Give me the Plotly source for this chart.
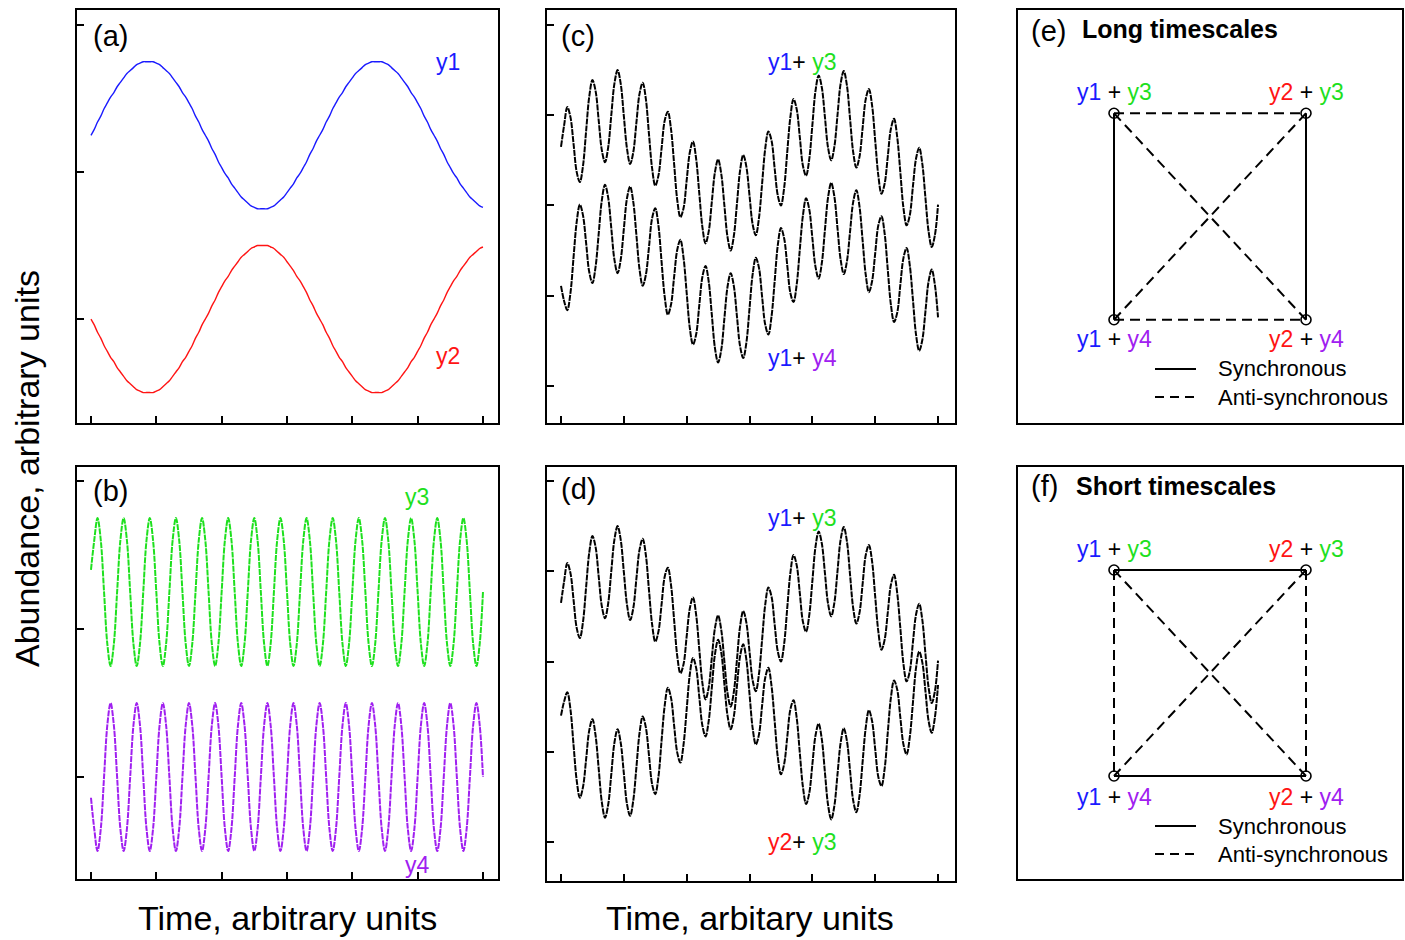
import numpy as np
import plotly.graph_objects as go

W, H = 1405, 940

# ---------------- data ----------------
# time samples, arbitrary units (0 .. 6 in steps of 0.05)
time = np.round(np.arange(121) * 0.05, 2)

# slow oscillators
y1 = [1.25, 1.29, 1.34, 1.38, 1.43, 1.47, 1.51, 1.54, 1.58, 1.61,
      1.64, 1.67, 1.69, 1.71, 1.73, 1.74, 1.75, 1.75, 1.75, 1.75,
      1.74, 1.73, 1.71, 1.69, 1.67, 1.64, 1.61, 1.58, 1.54, 1.51,
      1.47, 1.43, 1.38, 1.34, 1.29, 1.25,
      1.21, 1.16, 1.12, 1.07, 1.03, 0.99, 0.96, 0.92, 0.89, 0.86,
      0.83, 0.81, 0.79, 0.77, 0.76, 0.75, 0.75, 0.75, 0.75, 0.76,
      0.77, 0.79, 0.81, 0.83, 0.86, 0.89, 0.92, 0.96, 0.99, 1.03,
      1.07, 1.12, 1.16, 1.21,
      1.25,
      1.29, 1.34, 1.38, 1.43, 1.47, 1.51, 1.54, 1.58, 1.61, 1.64,
      1.67, 1.69, 1.71, 1.73, 1.74, 1.75, 1.75, 1.75, 1.75, 1.74,
      1.73, 1.71, 1.69, 1.67, 1.64, 1.61, 1.58, 1.54, 1.51, 1.47,
      1.43, 1.38, 1.34, 1.29, 1.25, 1.21, 1.16, 1.12, 1.07, 1.03,
      0.99, 0.96, 0.92, 0.89, 0.86, 0.83, 0.81, 0.79, 0.77, 0.76]
y2 = [0.00, -0.04, -0.09, -0.13, -0.18, -0.22, -0.26, -0.29, -0.33, -0.36,
      -0.39, -0.42, -0.44, -0.46, -0.48, -0.49, -0.50, -0.50, -0.50, -0.50,
      -0.49, -0.48, -0.46, -0.44, -0.42, -0.39, -0.36, -0.33, -0.29, -0.26,
      -0.22, -0.18, -0.13, -0.09, -0.04, 0.00,
      0.04, 0.09, 0.13, 0.18, 0.22, 0.26, 0.29, 0.33, 0.36, 0.39,
      0.42, 0.44, 0.46, 0.48, 0.49, 0.50, 0.50, 0.50, 0.50, 0.49,
      0.48, 0.46, 0.44, 0.42, 0.39, 0.36, 0.33, 0.29, 0.26, 0.22,
      0.18, 0.13, 0.09, 0.04,
      0.00,
      -0.04, -0.09, -0.13, -0.18, -0.22, -0.26, -0.29, -0.33, -0.36, -0.39,
      -0.42, -0.44, -0.46, -0.48, -0.49, -0.50, -0.50, -0.50, -0.50, -0.49,
      -0.48, -0.46, -0.44, -0.42, -0.39, -0.36, -0.33, -0.29, -0.26, -0.22,
      -0.18, -0.13, -0.09, -0.04, 0.00, 0.04, 0.09, 0.13, 0.18, 0.22,
      0.26, 0.29, 0.33, 0.36, 0.39, 0.42, 0.44, 0.46, 0.48, 0.49]
# fast oscillators (one row = one cycle)
y3 = [1.40, 1.60, 1.75, 1.60, 1.25, 0.90, 0.75, 0.90,
      1.25, 1.60, 1.75, 1.60, 1.25, 0.90, 0.75, 0.90,
      1.25, 1.60, 1.75, 1.60, 1.25, 0.90, 0.75, 0.90,
      1.25, 1.60, 1.75, 1.60, 1.25, 0.90, 0.75, 0.90,
      1.25, 1.60, 1.75, 1.60, 1.25, 0.90, 0.75, 0.90,
      1.25, 1.60, 1.75, 1.60, 1.25, 0.90, 0.75, 0.90,
      1.25, 1.60, 1.75, 1.60, 1.25, 0.90, 0.75, 0.90,
      1.25, 1.60, 1.75, 1.60, 1.25, 0.90, 0.75, 0.90,
      1.25, 1.60, 1.75, 1.60, 1.25, 0.90, 0.75, 0.90,
      1.25, 1.60, 1.75, 1.60, 1.25, 0.90, 0.75, 0.90,
      1.25, 1.60, 1.75, 1.60, 1.25, 0.90, 0.75, 0.90,
      1.25, 1.60, 1.75, 1.60, 1.25, 0.90, 0.75, 0.90,
      1.25, 1.60, 1.75, 1.60, 1.25, 0.90, 0.75, 0.90,
      1.25, 1.60, 1.75, 1.60, 1.25, 0.90, 0.75, 0.90,
      1.25, 1.60, 1.75, 1.60, 1.25, 0.90, 0.75, 0.90,
      1.25]
y4 = [-0.14, -0.35, -0.50, -0.35, 0.00, 0.35, 0.50, 0.35,
      0.00, -0.35, -0.50, -0.35, 0.00, 0.35, 0.50, 0.35,
      0.00, -0.35, -0.50, -0.35, 0.00, 0.35, 0.50, 0.35,
      0.00, -0.35, -0.50, -0.35, 0.00, 0.35, 0.50, 0.35,
      0.00, -0.35, -0.50, -0.35, 0.00, 0.35, 0.50, 0.35,
      0.00, -0.35, -0.50, -0.35, 0.00, 0.35, 0.50, 0.35,
      0.00, -0.35, -0.50, -0.35, 0.00, 0.35, 0.50, 0.35,
      0.00, -0.35, -0.50, -0.35, 0.00, 0.35, 0.50, 0.35,
      0.00, -0.35, -0.50, -0.35, 0.00, 0.35, 0.50, 0.35,
      0.00, -0.35, -0.50, -0.35, 0.00, 0.35, 0.50, 0.35,
      0.00, -0.35, -0.50, -0.35, 0.00, 0.35, 0.50, 0.35,
      0.00, -0.35, -0.50, -0.35, 0.00, 0.35, 0.50, 0.35,
      0.00, -0.35, -0.50, -0.35, 0.00, 0.35, 0.50, 0.35,
      0.00, -0.35, -0.50, -0.35, 0.00, 0.35, 0.50, 0.35,
      0.00, -0.35, -0.50, -0.35, 0.00, 0.35, 0.50, 0.35,
      0.00]

x_ticks = [0, 1, 2, 3, 4, 5, 6]
y_ticks_ab = [0, 1, 2]
y_ticks_cd = [0, 1, 2, 3, 4]

# network diagrams: nodes and edges
node_x = [0, 1, 0, 1]
node_y = [1, 1, 0, 0]
edges_e_sync = [(0, 2), (1, 3)]
edges_e_anti = [(0, 1), (2, 3), (0, 3), (1, 2)]
edges_f_sync = [(0, 1), (2, 3)]
edges_f_anti = [(0, 2), (1, 3), (0, 3), (1, 2)]

assert len(y1) == len(y2) == len(y3) == len(y4) == len(time)
y1a, y2a, y3a, y4a = map(np.array, (y1, y2, y3, y4))

# ---------------- styling ----------------
BLUE = "#1a1aff"
RED = "#ff1414"
GREEN = "#1ee01e"
PURPLE = "#a020f0"
FONT = "Liberation Sans, Arial, sans-serif"
FINE_DASH = "6px,1px"

def dom_x(p0, p1):
    return [p0 / W, p1 / W]

def dom_y(top, bot):
    return [1 - bot / H, 1 - top / H]

def px(x):
    return x / W

def py(y):
    return 1 - y / H

panels = {
    # name: (left, right, top, bottom) in pixels
    "a": (77, 498, 10, 423),
    "b": (77, 498, 467, 879),
    "c": (547, 955, 10, 423),
    "d": (547, 955, 467, 881),
    "e": (1018, 1402, 10, 423),
    "f": (1018, 1402, 467, 879),
}
ranges = {
    "a": ([-0.214, 6.23], [-0.707, 2.102], y_ticks_ab),
    "b": ([-0.214, 6.23], [-0.689, 2.095], y_ticks_ab),
    "c": ([-0.223, 6.27], [-0.41, 4.166], y_ticks_cd),
    "d": ([-0.223, 6.27], [-0.432, 4.155], y_ticks_cd),
    "e": ([-0.5, 1.5], [-0.5, 1.5], None),
    "f": ([-0.5, 1.5], [-0.5, 1.5], None),
}

layout = dict(
    width=W, height=H,
    margin=dict(l=0, r=0, t=0, b=0),
    paper_bgcolor="white", plot_bgcolor="white",
    showlegend=False,
    font=dict(family=FONT, color="black"),
)

axis_ids = {}
for i, name in enumerate("abcdef"):
    suffix = "" if i == 0 else str(i + 1)
    axis_ids[name] = ("x" + suffix, "y" + suffix)
    l, r, t, b = panels[name]
    xr, yr, yt = ranges[name]
    base = dict(showline=True, linecolor="black", linewidth=2, mirror=True,
                showgrid=False, zeroline=False, showticklabels=False,
                fixedrange=True)
    xa = dict(base, domain=dom_x(l, r), range=xr, anchor="y" + suffix)
    ya = dict(base, domain=dom_y(t, b), range=yr, anchor="x" + suffix)
    if yt is not None:
        tick = dict(ticks="inside", ticklen=7, tickwidth=1.5, tickcolor="black")
        xa.update(tick, tickvals=x_ticks)
        ya.update(tick, tickvals=yt)
    else:
        xa.update(ticks="")
        ya.update(ticks="")
    layout["xaxis" + suffix] = xa
    layout["yaxis" + suffix] = ya

fig = go.Figure()

def add_line(name, x, y, color, width, dash="solid"):
    xa, ya = axis_ids[name]
    fig.add_trace(go.Scatter(x=x, y=y, mode="lines", xaxis=xa, yaxis=ya,
                             line=dict(color=color, width=width, dash=dash,
                                       shape="spline", smoothing=1.0),
                             hoverinfo="skip"))

# (a)
add_line("a", time, y1a, BLUE, 1.4)
add_line("a", time, y2a, RED, 1.4)
# (b)
add_line("b", time, y3a, GREEN, 2, FINE_DASH)
add_line("b", time, y4a, PURPLE, 2, FINE_DASH)
# (c)
add_line("c", time, y1a + y3a, "black", 2, FINE_DASH)
add_line("c", time, y1a + y4a, "black", 2, FINE_DASH)
# (d)
add_line("d", time, y1a + y3a, "black", 2, FINE_DASH)
add_line("d", time, y2a + y3a, "black", 2, FINE_DASH)

# (e), (f) network diagrams
for name, sync, anti in (("e", edges_e_sync, edges_e_anti),
                         ("f", edges_f_sync, edges_f_anti)):
    xa, ya = axis_ids[name]
    for (i, j) in sync:
        fig.add_trace(go.Scatter(x=[node_x[i], node_x[j]], y=[node_y[i], node_y[j]],
                                 mode="lines", xaxis=xa, yaxis=ya,
                                 line=dict(color="black", width=2),
                                 hoverinfo="skip"))
    for (i, j) in anti:
        fig.add_trace(go.Scatter(x=[node_x[i], node_x[j]], y=[node_y[i], node_y[j]],
                                 mode="lines", xaxis=xa, yaxis=ya,
                                 line=dict(color="black", width=2, dash="10px,6px"),
                                 hoverinfo="skip"))
    fig.add_trace(go.Scatter(x=node_x, y=node_y, mode="markers", xaxis=xa, yaxis=ya,
                             marker=dict(symbol="circle-open", size=10,
                                         color="black", line=dict(width=1.6)),
                             hoverinfo="skip"))

fig.update_layout(**layout)

def c(txt, col):
    return f'<span style="color:{col}">{txt}</span>'

ann = []

def text(x, y, s, size, xanchor="center", angle=0, bold=False):
    if bold:
        s = "<b>" + s + "</b>"
    ann.append(dict(x=px(x), y=py(y), xref="paper", yref="paper", text=s,
                    showarrow=False, xanchor=xanchor, yanchor="middle",
                    textangle=angle, font=dict(size=size, family=FONT, color="black")))

# panel letters
text(91, 36, "(a)", 29, "left")
text(91, 491, "(b)", 29, "left")
text(559, 36, "(c)", 29, "left")
text(559, 489, "(d)", 29, "left")
text(1029, 31, "(e)", 29, "left")
text(1029, 486, "(f)", 29, "left")
text(1080, 29, "Long timescales", 25, "left", bold=True)
text(1074, 486, "Short timescales", 25, "left", bold=True)

# series labels
text(448, 62, c("y1", BLUE), 23)
text(448, 356, c("y2", RED), 23)
text(417, 497, c("y3", GREEN), 23)
text(417, 865, c("y4", PURPLE), 23)
text(802, 62, c("y1", BLUE) + "+ " + c("y3", GREEN), 23)
text(802, 358, c("y1", BLUE) + "+ " + c("y4", PURPLE), 23)
text(802, 518, c("y1", BLUE) + "+ " + c("y3", GREEN), 23)
text(802, 842, c("y2", RED) + "+ " + c("y3", GREEN), 23)

# node labels
for (top, bot) in ((92, 339), (549, 797)):
    text(1114, top, c("y1", BLUE) + " + " + c("y3", GREEN), 23)
    text(1306, top, c("y2", RED) + " + " + c("y3", GREEN), 23)
    text(1114, bot, c("y1", BLUE) + " + " + c("y4", PURPLE), 23)
    text(1306, bot, c("y2", RED) + " + " + c("y4", PURPLE), 23)

# legends inside (e) and (f)
shapes = []
for (ys, yd) in ((369, 397), (826, 854)):
    text(1216, ys, "Synchronous", 22, "left")
    text(1216, yd, "Anti-synchronous", 22, "left")
    shapes.append(dict(type="line", xref="paper", yref="paper",
                       x0=px(1155), x1=px(1196), y0=py(ys), y1=py(ys),
                       line=dict(color="black", width=2)))
    shapes.append(dict(type="line", xref="paper", yref="paper",
                       x0=px(1155), x1=px(1196), y0=py(yd), y1=py(yd),
                       line=dict(color="black", width=2, dash="9px,6px")))

# axis titles
text(27, 469, "Abundance, arbitrary units", 34, angle=-90)
text(287, 918, "Time, arbitrary units", 34)
text(750, 918, "Time, arbitary units", 34)

fig.update_layout(annotations=ann, shapes=shapes)
fig.write_html(
    "out.html",
    config={"displayModeBar": False},
    post_script="document.documentElement.style.margin='0';"
                "document.body.style.margin='0';"
                "document.body.style.overflow='hidden';",
)
